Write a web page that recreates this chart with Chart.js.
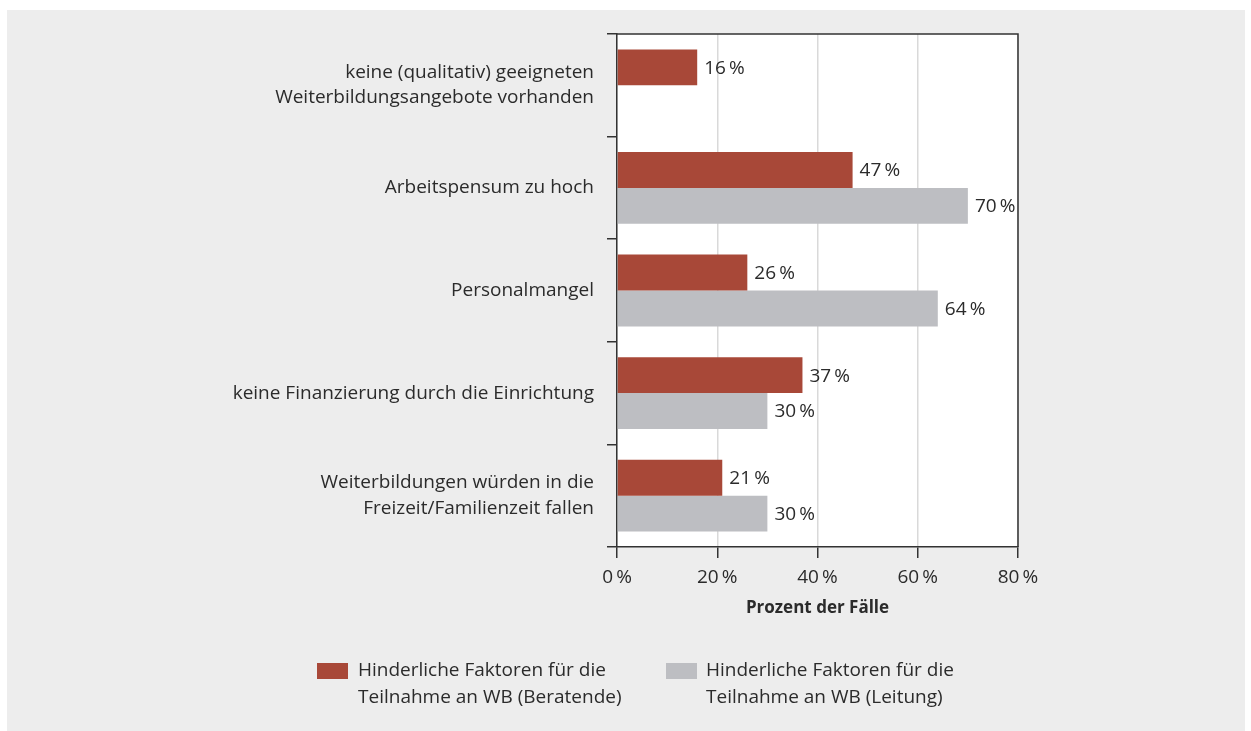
<!DOCTYPE html>
<html>
<head>
<meta charset="utf-8">
<script src="https://cdn.jsdelivr.net/npm/chart.js@4.4.1/dist/chart.umd.min.js"></script>
<style>
  html, body { margin: 0; padding: 0; background: #ffffff; }
  #wrap { position: relative; width: 1251px; height: 731px; overflow: hidden; }
  #bg { position: absolute; left: 7px; top: 10px; width: 1238px; height: 721px; background: #ededed; }
  #c { position: absolute; left: 0; top: 0; }
  .leg { position: absolute; font-family: "Open Sans", sans-serif; font-size: 19px; line-height: 27px; color: #2b2b2b; }
  .box { position: absolute; width: 31px; height: 16px; }
</style>
</head>
<body>
<div id="wrap">
  <div id="bg"></div>
  <canvas id="c" width="1251" height="731"></canvas>
  <div class="box" id="box0" style="left:317px; top:663px;"></div>
  <div class="leg" id="leg0" style="left:358px; top:656px;"></div>
  <div class="box" id="box1" style="left:666px; top:663px;"></div>
  <div class="leg" id="leg1" style="left:706px; top:656px;"></div>
</div>
<script>
const categories = [
  ["keine (qualitativ) geeigneten", "Weiterbildungsangebote vorhanden"],
  ["Arbeitspensum zu hoch"],
  ["Personalmangel"],
  ["keine Finanzierung durch die Einrichtung"],
  ["Weiterbildungen würden in die", "Freizeit/Familienzeit fallen"]
];
const seriesNames = [
  ["Hinderliche Faktoren für die", "Teilnahme an WB (Beratende)"],
  ["Hinderliche Faktoren für die", "Teilnahme an WB (Leitung)"]
];
const beratende = [16, 47, 26, 37, 21];
const leitung = [null, 70, 64, 30, 30];
const xTicks = [0, 20, 40, 60, 80];
const xTitle = "Prozent der Fälle";
const colors = ["#a84838", "#bdbec2"];

const FONT = '"Open Sans", sans-serif';
const TEXT = '#2b2b2b';

// HTML legend
seriesNames.forEach((n, i) => {
  document.getElementById('leg' + i).innerHTML = n.join('<br>');
  document.getElementById('box' + i).style.background = colors[i];
});

const frame = {
  id: 'frame',
  beforeDraw(chart) {
    const a = chart.chartArea, ctx = chart.ctx;
    ctx.save();
    ctx.fillStyle = '#ffffff';
    ctx.fillRect(a.left, a.top, a.right - a.left, a.bottom - a.top);
    ctx.restore();
  },
  afterDraw(chart) {
    const a = chart.chartArea, ctx = chart.ctx;
    ctx.save();
    ctx.strokeStyle = '#333333';
    ctx.lineWidth = 1.5;
    ctx.beginPath();
    ctx.moveTo(a.left, a.top);
    ctx.lineTo(a.right, a.top);
    ctx.lineTo(a.right, a.bottom);
    ctx.stroke();
    ctx.restore();
  }
};

const valueLabels = {
  id: 'valueLabels',
  afterDatasetsDraw(chart) {
    const ctx = chart.ctx;
    ctx.save();
    ctx.font = '19px ' + FONT;
    ctx.fillStyle = TEXT;
    ctx.textAlign = 'left';
    ctx.textBaseline = 'middle';
    chart.data.datasets.forEach((ds, di) => {
      const meta = chart.getDatasetMeta(di);
      meta.data.forEach((el, i) => {
        const v = ds.data[i];
        if (v === null || v === undefined) return;
        ctx.fillText(v + '\u2009%', el.x + 7, el.y + 1);
      });
    });
    ctx.restore();
  }
};

new Chart(document.getElementById('c'), {
  type: 'bar',
  data: {
    labels: categories,
    datasets: [
      { label: seriesNames[0].join(' '), data: beratende, backgroundColor: colors[0] },
      { label: seriesNames[1].join(' '), data: leitung, backgroundColor: colors[1] }
    ]
  },
  options: {
    indexAxis: 'y',
    responsive: false,
    animation: false,
    barPercentage: 1,
    categoryPercentage: 0.7,
    layout: { padding: { left: 0, top: 34, right: 233, bottom: 113 } },
    plugins: {
      legend: { display: false },
      tooltip: { enabled: false }
    },
    scales: {
      x: {
        min: 0, max: 80,
        afterBuildTicks(scale) { scale.ticks = xTicks.map(v => ({ value: v })); },
        afterFit(scale) { scale.height = 71; scale.paddingLeft = 0; scale.paddingRight = 0; },
        border: { display: true, color: '#333333', width: 1.5 },
        grid: {
          color: '#d9d9d9',
          lineWidth: 1.5,
          tickColor: '#333333',
          tickLength: 11,
          tickWidth: 1.5
        },
        ticks: {
          padding: 8,
          color: TEXT,
          font: { family: FONT, size: 19 },
          callback: (v) => v + '\u2009%'
        },
        title: {
          display: true,
          text: xTitle,
          color: TEXT,
          font: { family: FONT, size: 17, weight: 'bold' },
          padding: { top: 4, bottom: 0 }
        }
      },
      y: {
        afterFit(scale) { scale.width = 617; scale.paddingTop = 0; scale.paddingBottom = 0; },
        border: { display: true, color: '#333333', width: 1.5 },
        grid: {
          offset: true,
          drawOnChartArea: false,
          drawTicks: true,
          color: '#333333',
          lineWidth: 1.5,
          tickLength: 10
        },
        ticks: {
          padding: 13,
          color: TEXT,
          font: { family: FONT, size: 19, lineHeight: 1.33 }
        }
      }
    }
  },
  plugins: [frame, valueLabels]
});
</script>
</body>
</html>
